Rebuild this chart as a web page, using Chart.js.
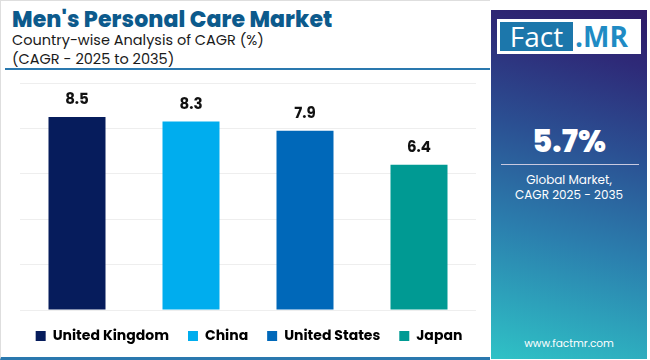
<!DOCTYPE html>
<html>
<head>
<meta charset="utf-8">
<script src="https://cdn.jsdelivr.net/npm/chart.js@4"></script>
<style>
  html, body { margin: 0; padding: 0; }
  body { width: 650px; height: 360px; position: relative; overflow: hidden; background: #fff; font-family: "Poppins", Inter, "Noto Sans", sans-serif; }
  .frame { position: absolute; left: 0; top: 0; width: 489px; height: 356px; border-left: 1px solid #dedede; border-top: 1px solid #dedede; border-bottom: 3px solid #2a78ae; }
  .title { position: absolute; left: 12px; top: 3px; font-size: 22px; font-weight: 800; color: #0c5a8c; letter-spacing: 0.1px; }
  .sub { position: absolute; left: 12px; font-size: 14.5px; color: #1a1a1a; }
  .rule { position: absolute; left: 5px; top: 68px; width: 485px; height: 2px; background: #2a78ae; }
  #wrap { position: absolute; left: 0; top: 75px; width: 490px; height: 282px; }
  .side { position: absolute; left: 491px; top: 10px; width: 156px; height: 349px;
    background: linear-gradient(15deg, #2fc2c6 0%, #2b7fae 35%, #2b4f92 62%, #2e2a78 85%, #2e1b68 100%); color: #fff; text-align: center; }
  .logo { position: absolute; left: 6px; top: 9px; width: 144px; height: 35px; background: #fff; }
  .logo .f { position: absolute; left: 3px; top: 3px; width: 73px; height: 29px; background: #1c77ab; color: #fff; font-size: 28px; line-height: 29px; font-family: "Open Sans", sans-serif; }
  .logo .m { position: absolute; left: 78px; top: 1px; font-size: 28px; line-height: 33px; font-weight: 700; color: #1f8bc4; font-family: "Open Sans", sans-serif; }
  .big { position: absolute; left: 0; width: 156px; top: 108px; font-size: 31px; font-weight: 800; }
  .hr { position: absolute; left: 10px; top: 154px; width: 138px; height: 1px; background: #c9c9e0; }
  .cap { position: absolute; left: 0; width: 156px; top: 163px; font-size: 12px; line-height: 14.5px; }
  .url { position: absolute; left: 0; width: 156px; top: 326px; font-size: 10.5px; }
</style>
</head>
<body>
<div class="frame"></div>
<div class="title">Men's Personal Care Market</div>
<div class="sub" style="top:30px">Country-wise Analysis of CAGR (%)</div>
<div class="sub" style="top:49px">(CAGR - 2025 to 2035)</div>
<div class="rule"></div>
<div id="wrap"><canvas id="chart"></canvas></div>
<div class="side">
  <div class="logo"><div class="f">Fact</div><div class="m">.MR</div></div>
  <div class="big">5.7%</div>
  <div class="hr"></div>
  <div class="cap">Global Market,<br>CAGR 2025 - 2035</div>
  <div class="url">www.factmr.com</div>
</div>
<script>
// datos
const countries = ['United Kingdom', 'China', 'United States', 'Japan'];
const cagr = [8.5, 8.3, 7.9, 6.4];
const barColors = ['#061c5c', '#00adee', '#0068b9', '#009a93'];
const yTicks = [0, 2, 4, 6, 8, 10];

const FONT = '"Poppins", Inter, "Noto Sans", sans-serif';

// etiquetas de valor encima de cada barra
const valueLabels = {
    id: 'valueLabels',
    afterDatasetsDraw(chart) {
        const ctx = chart.ctx;
        const meta = chart.getDatasetMeta(0);
        ctx.save();
        ctx.font = 'bold 15px ' + FONT;
        ctx.fillStyle = '#111';
        ctx.textAlign = 'center';
        ctx.textBaseline = 'bottom';
        meta.data.forEach((bar, i) => {
            ctx.fillText(cagr[i].toFixed(1), bar.x, bar.y - 9);
        });
        ctx.restore();
    }
};

const ctx = document.getElementById('chart').getContext('2d');
new Chart(ctx, {
    type: 'bar',
    data: {
        labels: countries,
        datasets: [{ data: cagr, backgroundColor: barColors, barPercentage: 0.5, categoryPercentage: 1 }]
    },
    options: {
        responsive: true, maintainAspectRatio: false, animation: false,
        layout: { padding: { left: 10, right: 2, top: 8, bottom: 4 } },
        plugins: {
            tooltip: { enabled: false },
            legend: {
                position: 'bottom',
                labels: {
                    boxWidth: 10, boxHeight: 10, padding: 19, color: '#111',
                    font: { family: FONT, size: 14, weight: 'bold' },
                    generateLabels: () => countries.map((c, i) => ({
                        text: c, fillStyle: barColors[i], strokeStyle: barColors[i], lineWidth: 0, index: i
                    }))
                }
            }
        },
        scales: {
            x: {
                afterFit: (axis) => { axis.height = 0; },
                grid: { display: false }, border: { display: false }, ticks: { display: false }
            },
            y: {
                min: 0, max: 10,
                afterBuildTicks: (axis) => { axis.ticks = yTicks.map(v => ({ value: v })); },
                afterFit: (axis) => { axis.width = 10; },
                grid: { color: '#eeeeee', drawTicks: false }, border: { display: false },
                ticks: { display: false }
            },
            // eje vacio a la derecha solo para reservar margen
            yRight: {
                position: 'right', min: 0, max: 10,
                afterFit: (axis) => { axis.width = 12; },
                grid: { display: false }, border: { display: false }, ticks: { display: false }
            }
        }
    },
    plugins: [valueLabels]
});
</script>
</body>
</html>
